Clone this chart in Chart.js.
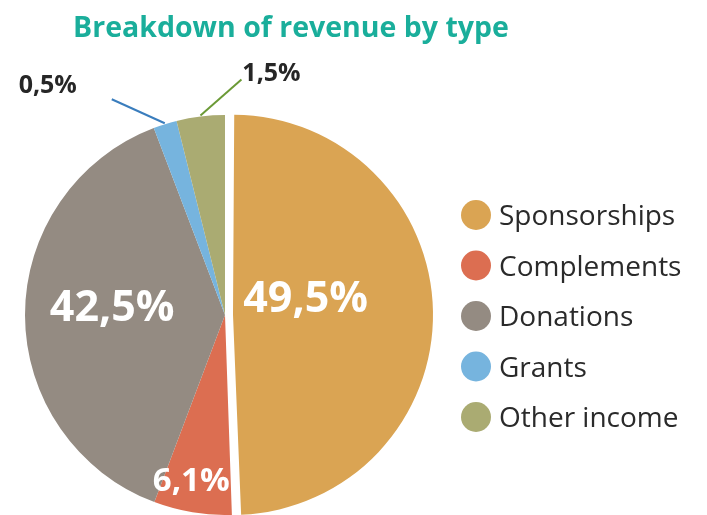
<!DOCTYPE html>
<html>
<head>
<meta charset="utf-8">
<script src="https://cdn.jsdelivr.net/npm/chart.js@4.4.1/dist/chart.umd.min.js"></script>
<style>
  html, body { margin: 0; padding: 0; background: #ffffff; }
  #wrap { width: 707px; height: 515px; }
</style>
</head>
<body>
<div id="wrap"><canvas id="revenueChart" width="707" height="515"></canvas></div>
<script>
// Donnees
const titleText = 'Breakdown of revenue by type';
const categories = ['Sponsorships', 'Complements', 'Donations', 'Grants', 'Other income'];
// part visuelle de chaque secteur (en %)
const shares = [49.5, 6.3, 38.5, 1.9, 3.9];
// textes affiches sur le graphique
const shareLabels = ['49,5%', '6,1%', '42,5%', '0,5%', '1,5%'];
const sliceColors = ['#daa453', '#dc6e51', '#948b82', '#76b4de', '#aaab72'];

// Placement des etiquettes (style uniquement)
const insideLabels = {
    0: { frac: 0.41, dAng: -9.6, size: 43 },
    1: { frac: 0.85, dAng: 2.1, size: 33 },
    2: { frac: 0.565, dAng: 3.5, size: 43 }
};
const outsideLabels = {
    3: { line: [-53, -24], text: [-117, -37], color: '#3a7dbd' },
    4: { line: [41, -36], text: [71, -42], color: '#6b9a36' }
};

// Chart.js agrandit le rayon d'un secteur decale : on compense pour garder le meme rayon
const keepRadius = {
    id: 'keepRadius',
    beforeDatasetsDraw(chart) {
        chart.getDatasetMeta(0).data.forEach(arc => {
            const off = (arc.options.offset || 0) / 4;
            if (!off) return;
            const fix = 1 - Math.sin(Math.min(Math.PI, arc.circumference || 0));
            arc.outerRadius = chart.options.radius - off * fix;
        });
    }
};

// Plugin maison : titre, etiquettes et legende
const extras = {
    id: 'extras',
    afterDraw(chart) {
        const ctx = chart.ctx;
        const arcs = chart.getDatasetMeta(0).data;
        const R = chart.options.radius;
        ctx.save();

        // Titre
        ctx.font = 'bold 28.5px "Open Sans"';
        ctx.fillStyle = '#1aae9b';
        ctx.textAlign = 'center';
        ctx.textBaseline = 'alphabetic';
        ctx.fillText(titleText, 291, 37);

        // Etiquettes dans les secteurs
        arcs.forEach((arc, i) => {
            const p = arc.getProps(['x', 'y', 'startAngle', 'endAngle'], true);
            const mid = (p.startAngle + p.endAngle) / 2;
            if (insideLabels[i]) {
                const o = insideLabels[i];
                const a = mid + o.dAng * Math.PI / 180;
                const d = R * o.frac;
                ctx.font = 'bold ' + o.size + 'px "Open Sans"';
                ctx.fillStyle = '#ffffff';
                ctx.textAlign = 'center';
                ctx.textBaseline = 'middle';
                ctx.fillText(shareLabels[i], p.x + Math.cos(a) * d, p.y + Math.sin(a) * d);
            }
            if (outsideLabels[i]) {
                const o = outsideLabels[i];
                const ex = p.x + Math.cos(mid) * (R + 1);
                const ey = p.y + Math.sin(mid) * (R + 1);
                ctx.strokeStyle = o.color;
                ctx.lineWidth = 2;
                ctx.beginPath();
                ctx.moveTo(ex, ey);
                ctx.lineTo(ex + o.line[0], ey + o.line[1]);
                ctx.stroke();
                ctx.font = 'bold 25px "Open Sans"';
                ctx.fillStyle = '#262626';
                ctx.textAlign = 'center';
                ctx.textBaseline = 'middle';
                ctx.fillText(shareLabels[i], ex + o.text[0], ey + o.text[1]);
            }
        });

        // Legende
        ctx.textAlign = 'left';
        ctx.textBaseline = 'alphabetic';
        ctx.font = '28px "Open Sans"';
        categories.forEach((name, i) => {
            const cy = 215 + i * 50.5;
            ctx.fillStyle = sliceColors[i];
            ctx.beginPath();
            ctx.arc(476, cy, 15, 0, Math.PI * 2);
            ctx.fill();
            ctx.fillStyle = '#2a2a2a';
            ctx.fillText(name, 499, cy + 10);
        });

        ctx.restore();
    }
};

const ctx = document.getElementById('revenueChart').getContext('2d');
new Chart(ctx, {
    type: 'pie',
    data: {
        labels: categories,
        datasets: [{
            data: shares,
            backgroundColor: sliceColors,
            borderWidth: 0,
            // Chart.js divise l'offset par 4 au dessin
            offset: [32, 0, 0, 0, 0]
        }]
    },
    options: {
        responsive: false,
        animation: false,
        radius: 200,
        layout: { padding: { left: 17, right: 274, top: 115, bottom: 0 } },
        events: [],
        plugins: {
            legend: { display: false },
            title: { display: false },
            tooltip: { enabled: false }
        }
    },
    plugins: [keepRadius, extras]
});
</script>
</body>
</html>
